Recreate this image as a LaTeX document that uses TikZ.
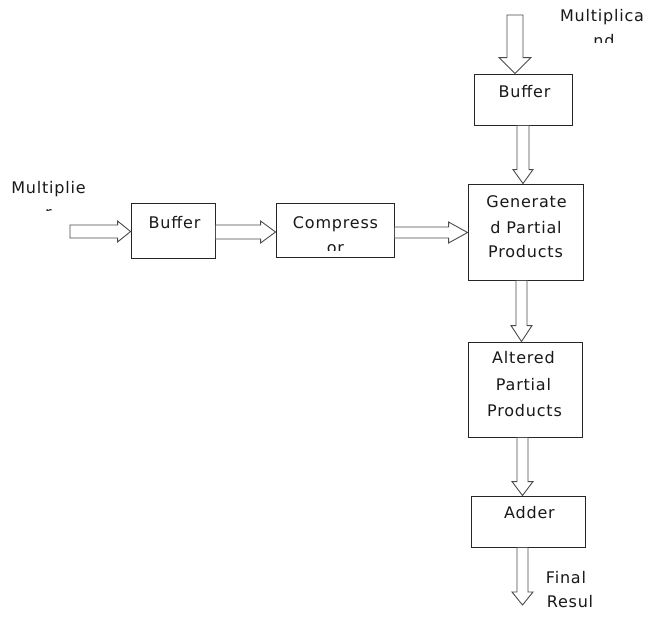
\documentclass[tikz,border=0pt]{standalone}
\usepackage{fontspec}
\setmainfont{DejaVu Sans}[LetterSpace=5]
\usetikzlibrary{calc}
\tikzset{
  box/.style={draw=black!85, line width=0.9pt, fill=white, inner sep=0pt},
  blk/.style={draw=black!70, line width=0.9pt, fill=white, line join=miter},
  txt/.style={inner sep=0pt, anchor=base, text=black!90, font=\fontsize{16}{20}\selectfont}
}
% vertical block arrow: start, tip, shaft half width, head half width, head length
\newcommand\blkdown[5]{%
  \draw[blk] let \p1=(#1), \p2=(#2) in
    (\x2-#3,\y1) -- (\x2-#3,\y2+#5) -- (\x2-#4,\y2+#5) -- (\x2,\y2)
    -- (\x2+#4,\y2+#5) -- (\x2+#3,\y2+#5) -- (\x2+#3,\y1) -- cycle;}
% horizontal block arrow
\newcommand\blkright[5]{%
  \draw[blk] let \p1=(#1), \p2=(#2) in
    (\x1,\y2+#3) -- (\x2-#5,\y2+#3) -- (\x2-#5,\y2+#4) -- (\x2,\y2)
    -- (\x2-#5,\y2-#4) -- (\x2-#5,\y2-#3) -- (\x1,\y2-#3) -- cycle;}
\begin{document}
\begin{tikzpicture}[x=1pt,y=-1pt]
\useasboundingbox[fill=white] (0,0) rectangle (646,622);

% boxes
\node[box, minimum width=98pt, minimum height=51pt] (buf2) at (523,99.5) {};
\node[box, minimum width=84pt, minimum height=55pt] (buf1) at (173,230.5) {};
\node[box, minimum width=118pt, minimum height=54pt] (comp) at (335,230) {};
\node[box, minimum width=115pt, minimum height=96pt] (gen) at (525.5,232) {};
\node[box, minimum width=114pt, minimum height=95pt] (alt) at (525,389.5) {};
\node[box, minimum width=114pt, minimum height=51pt] (add) at (528,521.5) {};

% free ends
\coordinate (inA) at (515,15);
\coordinate (inB) at (70,231.5);
\coordinate (outR) at (522.5,605);

% connectors
\blkdown{inA}{buf2.north -| inA}{8pt}{16pt}{16pt}
\blkdown{buf2.south}{$(gen.north)+(-2.5,0)$}{6pt}{10pt}{14pt}
\blkdown{gen.south}{$(alt.north)+(-3.5,0)$}{5.5pt}{10.5pt}{16pt}
\blkdown{alt.south}{$(add.north)+(-5.5,0)$}{5.5pt}{10.5pt}{14pt}
\blkdown{add.south}{outR}{5.5pt}{10.5pt}{13pt}
\blkright{inB}{$(buf1.west)+(0,1)$}{6.5pt}{10.5pt}{13pt}
\blkright{buf1.east}{$(comp.west)+(0,2)$}{7pt}{11pt}{15pt}
\blkright{comp.east}{$(gen.west)+(0,0.5)$}{5.5pt}{10.5pt}{19pt}

% texts
\node[txt] (t1) at (602,21) {Multiplica};
\begin{scope}
  \clip (560,30) rectangle (646,42);
  \node[txt] (t2) at (604,46) {nd};
\end{scope}
\node[txt] (t3) at (524.5,97) {Buffer};

\node[txt] (t4) at (48.5,193) {Multiplie};
\begin{scope}
  \clip (0,200) rectangle (100,210.5);
  \node[txt] (t5) at (48.5,218) {r};
\end{scope}
\node[txt] (t6) at (174.5,228) {Buffer};
\node[txt] (t7) at (335.5,228) {Compress};
\begin{scope}
  \clip (280,236) rectangle (390,250.5);
  \node[txt] (t8) at (335.5,253) {or};
\end{scope}

\node[txt] (t9) at (526.5,207) {Generate};
\node[txt] (t10) at (526,233) {d Partial};
\node[txt] (t11) at (525.5,257) {Products};

\node[txt] (t12) at (523.5,363) {Altered};
\node[txt] (t13) at (523.5,390) {Partial};
\node[txt] (t14) at (524.5,416) {Products};

\node[txt] (t15) at (529.5,518) {Adder};
\node[txt] (t16) at (566,583) {Final};
\node[txt] (t17) at (570,607) {Resul};
\end{tikzpicture}
\end{document}
